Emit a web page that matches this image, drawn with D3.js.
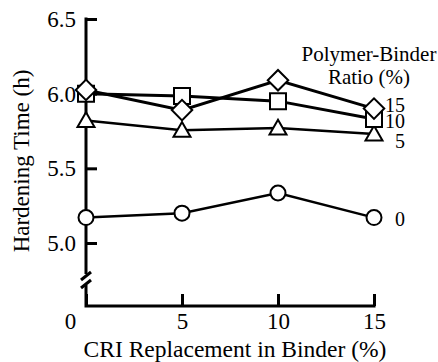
<!DOCTYPE html>
<html>
<head>
<meta charset="utf-8">
<script src="https://cdn.jsdelivr.net/npm/d3@7"></script>
<style>
  body { margin: 0; background: #fff; }
</style>
</head>
<body>
<div id="chart"></div>
<script>
// CRI replacement in binder (%)
const cri = [0, 5, 10, 15];
// hardening time (h) per polymer-binder ratio
const ratio0 = [5.17, 5.20, 5.335, 5.17];
const ratio5 = [5.82, 5.755, 5.77, 5.73];
const ratio10 = [6.0, 5.985, 5.95, 5.83];
const ratio15 = [6.025, 5.89, 6.09, 5.90];
const seriesNames = ["0", "5", "10", "15"];
const yTicks = [5.0, 5.5, 6.0, 6.5];
const xTicks = [0, 5, 10, 15];

const width = 438, height = 362;
const serif = "'Liberation Serif'";

const svg = d3.select("#chart")
  .append("svg")
  .attr("width", width)
  .attr("height", height);

const x = d3.scaleLinear().domain([0, 15]).range([86, 374]);
const y = d3.scaleLinear().domain([5.0, 6.5]).range([243, 19]);
const yBottom = 306;

// y axis ticks point inward
const yAxis = svg.append("g")
  .attr("transform", `translate(${x(0)},0)`)
  .call(d3.axisLeft(y).tickValues(yTicks).tickFormat(d3.format(".1f"))
    .tickSizeInner(-11).tickSizeOuter(0).tickPadding(10));
yAxis.select(".domain").remove();
yAxis.selectAll("line").attr("stroke", "#000").attr("stroke-width", 3);
yAxis.selectAll("text").attr("font-family", serif).attr("font-size", 23).attr("fill", "#000");

const xAxis = svg.append("g")
  .attr("transform", `translate(0,${yBottom})`)
  .call(d3.axisBottom(x).tickValues(xTicks)
    .tickSizeInner(-12).tickSizeOuter(0).tickPadding(7));
xAxis.select(".domain").remove();
xAxis.selectAll("line").attr("stroke", "#000").attr("stroke-width", 3);
xAxis.selectAll("text").attr("font-family", serif).attr("font-size", 23).attr("fill", "#000");
xAxis.selectAll(".tick").filter(d => d === 0).select("text").attr("x", -16);

// axis lines with break marks
const axisG = svg.append("g").attr("stroke", "#000").attr("stroke-width", 3).attr("fill", "none");
axisG.append("path").attr("d", `M${x(0)},${y(6.5) - 1.5}V274`);
axisG.append("path").attr("d", `M${x(0)},285V${yBottom}H${x(15) + 1.5}`);
[276, 284].forEach(by => {
  axisG.append("path").attr("d", `M${x(0) - 5},${by + 4}L${x(0) + 5},${by - 4}`);
});

// series
const series = [
  { name: "0", values: ratio0, shape: "circle", lw: 2.5, dy: 1 },
  { name: "5", values: ratio5, shape: "triangle", lw: 2.5, dy: 7 },
  { name: "10", values: ratio10, shape: "square", lw: 3, dy: 2 },
  { name: "15", values: ratio15, shape: "diamond", lw: 3, dy: -4 }
];

const line = d3.line().x((d, i) => x(cri[i])).y(d => y(d));

series.forEach(s => {
  svg.append("path")
    .datum(s.values)
    .attr("d", line)
    .attr("fill", "none")
    .attr("stroke", "#000")
    .attr("stroke-width", s.lw);
});

const symbols = {
  circle: d3.symbol().type(d3.symbolCircle).size(Math.PI * 7.5 * 7.5),
  triangle: d3.symbol().type(d3.symbolTriangle).size(125),
  square: d3.symbol().type(d3.symbolSquare).size(256),
  diamond: d3.symbol().type(d3.symbolSquare).size(210)
};

series.forEach(s => {
  svg.append("g").selectAll("path")
    .data(s.values)
    .join("path")
    .attr("d", symbols[s.shape]())
    .attr("transform", (d, i) => `translate(${x(cri[i])},${y(d) + (s.shape === "triangle" ? 1.5 : 0)})` + (s.shape === "diamond" ? " rotate(45)" : ""))
    .attr("fill", "#fff")
    .attr("stroke", "#000")
    .attr("stroke-width", 2);

  svg.append("text")
    .attr("x", 405)
    .attr("y", y(s.values[s.values.length - 1]) + s.dy)
    .attr("dy", "0.35em")
    .attr("text-anchor", "end")
    .attr("font-family", serif)
    .attr("font-size", 20)
    .text(s.name);
});

// legend title
svg.append("text").attr("x", 369).attr("y", 61).attr("text-anchor", "middle")
  .attr("font-family", serif).attr("font-size", 21).text("Polymer-Binder");
svg.append("text").attr("x", 369).attr("y", 84).attr("text-anchor", "middle")
  .attr("font-family", serif).attr("font-size", 21).text("Ratio (%)");

// axis titles
svg.append("text").attr("x", 235).attr("y", 357).attr("text-anchor", "middle")
  .attr("font-family", serif).attr("font-size", 23.5).text("CRI Replacement in Binder (%)");
svg.append("text")
  .attr("transform", "translate(29,161) rotate(-90)")
  .attr("text-anchor", "middle")
  .attr("font-family", serif).attr("font-size", 23).text("Hardening Time (h)");
</script>
</body>
</html>
